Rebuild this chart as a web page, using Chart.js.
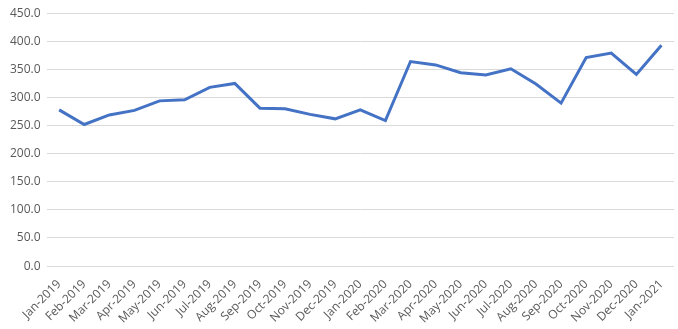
<!DOCTYPE html>
<html>
<head>
<meta charset="utf-8">
<script src="https://cdn.jsdelivr.net/npm/chart.js@4"></script>
<style>
  html, body { margin: 0; padding: 0; background: #fff; }
  #wrap { width: 678px; height: 329px; }
</style>
</head>
<body>
<div id="wrap"><canvas id="lineChart"></canvas></div>
<script>
const months = ['Jan-2019', 'Feb-2019', 'Mar-2019', 'Apr-2019', 'May-2019', 'Jun-2019', 'Jul-2019',
  'Aug-2019', 'Sep-2019', 'Oct-2019', 'Nov-2019', 'Dec-2019', 'Jan-2020', 'Feb-2020', 'Mar-2020',
  'Apr-2020', 'May-2020', 'Jun-2020', 'Jul-2020', 'Aug-2020', 'Sep-2020', 'Oct-2020', 'Nov-2020',
  'Dec-2020', 'Jan-2021'];
const values = [278, 252, 269, 277, 294, 296, 318, 325, 281, 280, 270, 262, 278, 259, 364,
  358, 344, 340, 351, 324, 290, 371, 379, 341, 393];
const yMin = 0;
const yMax = 450;
const yStep = 50;

const ctx = document.getElementById('lineChart').getContext('2d');
const lineChart = new Chart(ctx, {
  type: 'line',
  data: {
    labels: months,
    datasets: [{
      data: values,
      borderColor: '#4472C4',
      borderWidth: 3,
      pointRadius: 0,
      fill: false,
      tension: 0
    }]
  },
  options: {
    responsive: true,
    maintainAspectRatio: false,
    animation: false,
    layout: { padding: { left: 4, right: 4, top: 3, bottom: 0 } },
    plugins: { legend: { display: false }, tooltip: { enabled: false } },
    scales: {
      x: {
        offset: true,
        grid: { display: false },
        border: { display: false },
        ticks: {
          color: '#595959',
          font: { family: 'Open Sans', size: 12 },
          minRotation: 45,
          maxRotation: 45,
          autoSkip: false,
          padding: 3
        }
      },
      y: {
        min: yMin,
        max: yMax,
        grid: { color: '#d9d9d9', lineWidth: 1, drawTicks: false },
        border: { display: false },
        ticks: {
          stepSize: yStep,
          color: '#595959',
          font: { family: 'Open Sans', size: 12 },
          padding: 6,
          callback: v => v.toFixed(1)
        }
      }
    }
  }
});
</script>
</body>
</html>
